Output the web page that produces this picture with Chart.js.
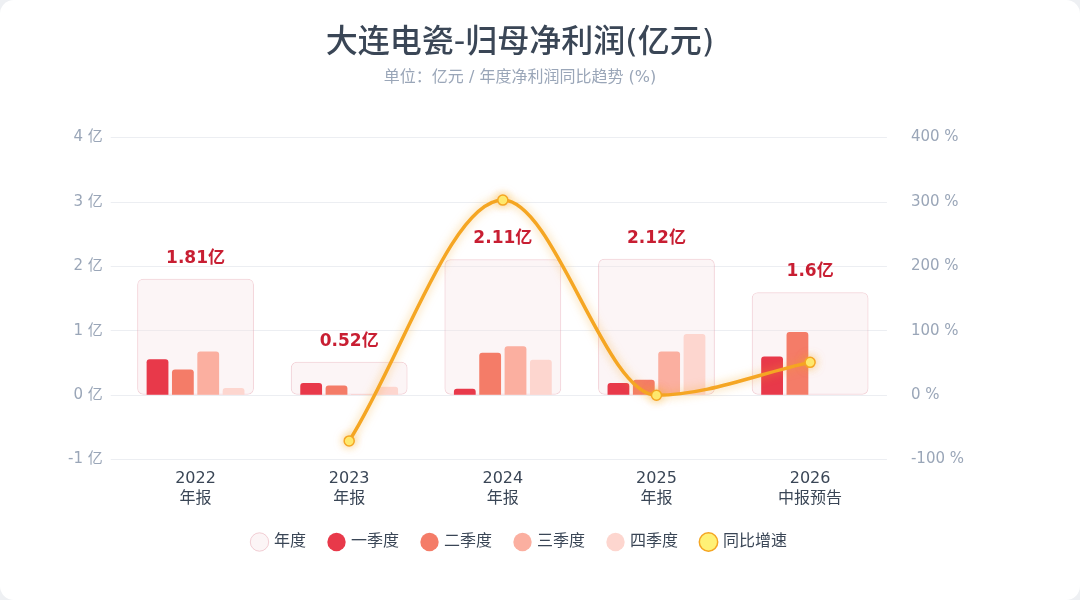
<!DOCTYPE html>
<html><head><meta charset="utf-8">
<script src="https://cdn.jsdelivr.net/npm/chart.js@4"></script>
<style>
body{margin:0;background:#eef0f3}
.card{position:absolute;left:0;top:0;width:1080px;height:600px;background:#fff;border-radius:14px}
#wrap{position:absolute;left:0;top:0;width:1080px;height:600px}
</style></head><body>
<div class="card"></div>
<div id="wrap"><canvas id="c"></canvas></div>
<script>
const categories = [['2022','年报'],['2023','年报'],['2024','年报'],['2025','年报'],['2026','中报预告']];
const annual = [1.81, 0.52, 2.11, 2.12, 1.6];
const annualLabels = ['1.81亿','0.52亿','2.11亿','2.12亿','1.6亿'];
const q1 = [0.56, 0.19, 0.10, 0.19, 0.60];
const q2 = [0.40, 0.15, 0.66, 0.24, 0.98];
const q3 = [0.68, 0.01, 0.76, 0.68, null];
const q4 = [0.11, 0.13, 0.55, 0.95, null];
const growth = [null, -71, 303, 0, 51];

const font = '"DejaVu Sans","Noto Sans CJK SC",sans-serif';

const annualLabelPlugin = {
  id: 'annualLabels',
  afterDatasetsDraw(chart) {
    const meta = chart.getDatasetMeta(0);
    const ctx = chart.ctx;
    ctx.save();
    ctx.font = 'bold 17px ' + font;
    ctx.fillStyle = '#c81e32';
    ctx.textAlign = 'center';
    ctx.textBaseline = 'bottom';
    meta.data.forEach((bar, i) => {
      ctx.fillText(annualLabels[i], bar.x, bar.y - 12);
    });
    ctx.restore();
  }
};

const glowPlugin = {
  id: 'glow',
  beforeDatasetDraw(chart, args) {
    if (args.index === 5) {
      chart.ctx.save();
      chart.ctx.shadowColor = 'rgba(245,166,35,0.6)';
      chart.ctx.shadowBlur = 10;
    }
  },
  afterDatasetDraw(chart, args) {
    if (args.index === 5) chart.ctx.restore();
  }
};

const legendGap = {
  id: 'legendGap',
  beforeInit(chart) {
    const fit = chart.legend.fit;
    chart.legend.fit = function () {
      fit.bind(chart.legend)();
      this.height += 40;
    };
  }
};

new Chart(document.getElementById('c'), {
  type: 'bar',
  data: {
    labels: categories,
    datasets: [
      { label: '年度', data: annual, order: 3, grouped: false,
        backgroundColor: 'rgba(246,225,228,0.35)', borderColor: 'rgba(232,170,180,0.55)',
        borderWidth: 1, borderRadius: 6, borderSkipped: false,
        barPercentage: 1, categoryPercentage: 0.76 },
      { label: '一季度', data: q1, backgroundColor: '#e8394a', order: 2, borderRadius: {topLeft:3,topRight:3}, borderSkipped: 'bottom' },
      { label: '二季度', data: q2, backgroundColor: '#f47c68', order: 2, borderRadius: {topLeft:3,topRight:3}, borderSkipped: 'bottom' },
      { label: '三季度', data: q3, backgroundColor: '#fbafa0', order: 2, borderRadius: {topLeft:3,topRight:3}, borderSkipped: 'bottom' },
      { label: '四季度', data: q4, backgroundColor: '#fdd6cf', order: 2, borderRadius: {topLeft:3,topRight:3}, borderSkipped: 'bottom' },
      { label: '同比增速', type: 'line', data: growth, yAxisID: 'y1', order: 0,
        borderColor: '#f5a623', borderWidth: 3.5, cubicInterpolationMode: 'monotone', spanGaps: true,
        pointRadius: 5, pointBackgroundColor: '#fff176', pointBorderColor: '#f5a623', pointBorderWidth: 1.5,
        backgroundColor: '#fff59d' }
    ]
  },
  options: {
    responsive: true, maintainAspectRatio: false, animation: false,
    layout: { padding: { left: 60, right: 100, top: 10, bottom: 0 } },
    datasets: { bar: { barPercentage: 0.86, categoryPercentage: 0.66 } },
    plugins: {
      title: { display: true, text: '大连电瓷-归母净利润(亿元)', color: '#3a4656',
        font: { family: font, size: 32, weight: '500' }, padding: { top: 14, bottom: 6 } },
      subtitle: { display: true, text: '单位：亿元 / 年度净利润同比趋势 (%)', color: '#9aa6b8',
        font: { family: font, size: 16 }, padding: { bottom: 50 } },
      legend: { position: 'bottom', labels: { usePointStyle: true, pointStyle: 'circle', boxWidth: 13, boxHeight: 13,
        padding: 24, color: '#3a4656', font: { family: font, size: 16 },
        sort: (a, b) => a.datasetIndex - b.datasetIndex } },
      tooltip: { enabled: false }
    },
    scales: {
      x: { grid: { display: false }, border: { display: false },
        ticks: { color: '#3a4656', font: { family: font, size: 16 }, padding: 2 } },
      y: { min: -1, max: 4, position: 'left', border: { display: false },
        grid: { color: '#eceef2' },
        ticks: { stepSize: 1, color: '#9aa6b8', font: { family: font, size: 15 }, padding: 8, callback: v => v + ' 亿' } },
      y1: { min: -100, max: 400, position: 'right', border: { display: false },
        grid: { display: false },
        ticks: { stepSize: 100, color: '#9aa6b8', font: { family: font, size: 15 }, padding: 16, callback: v => v + ' %' } }
    }
  },
  plugins: [annualLabelPlugin, glowPlugin, legendGap]
});
</script>
</body></html>
